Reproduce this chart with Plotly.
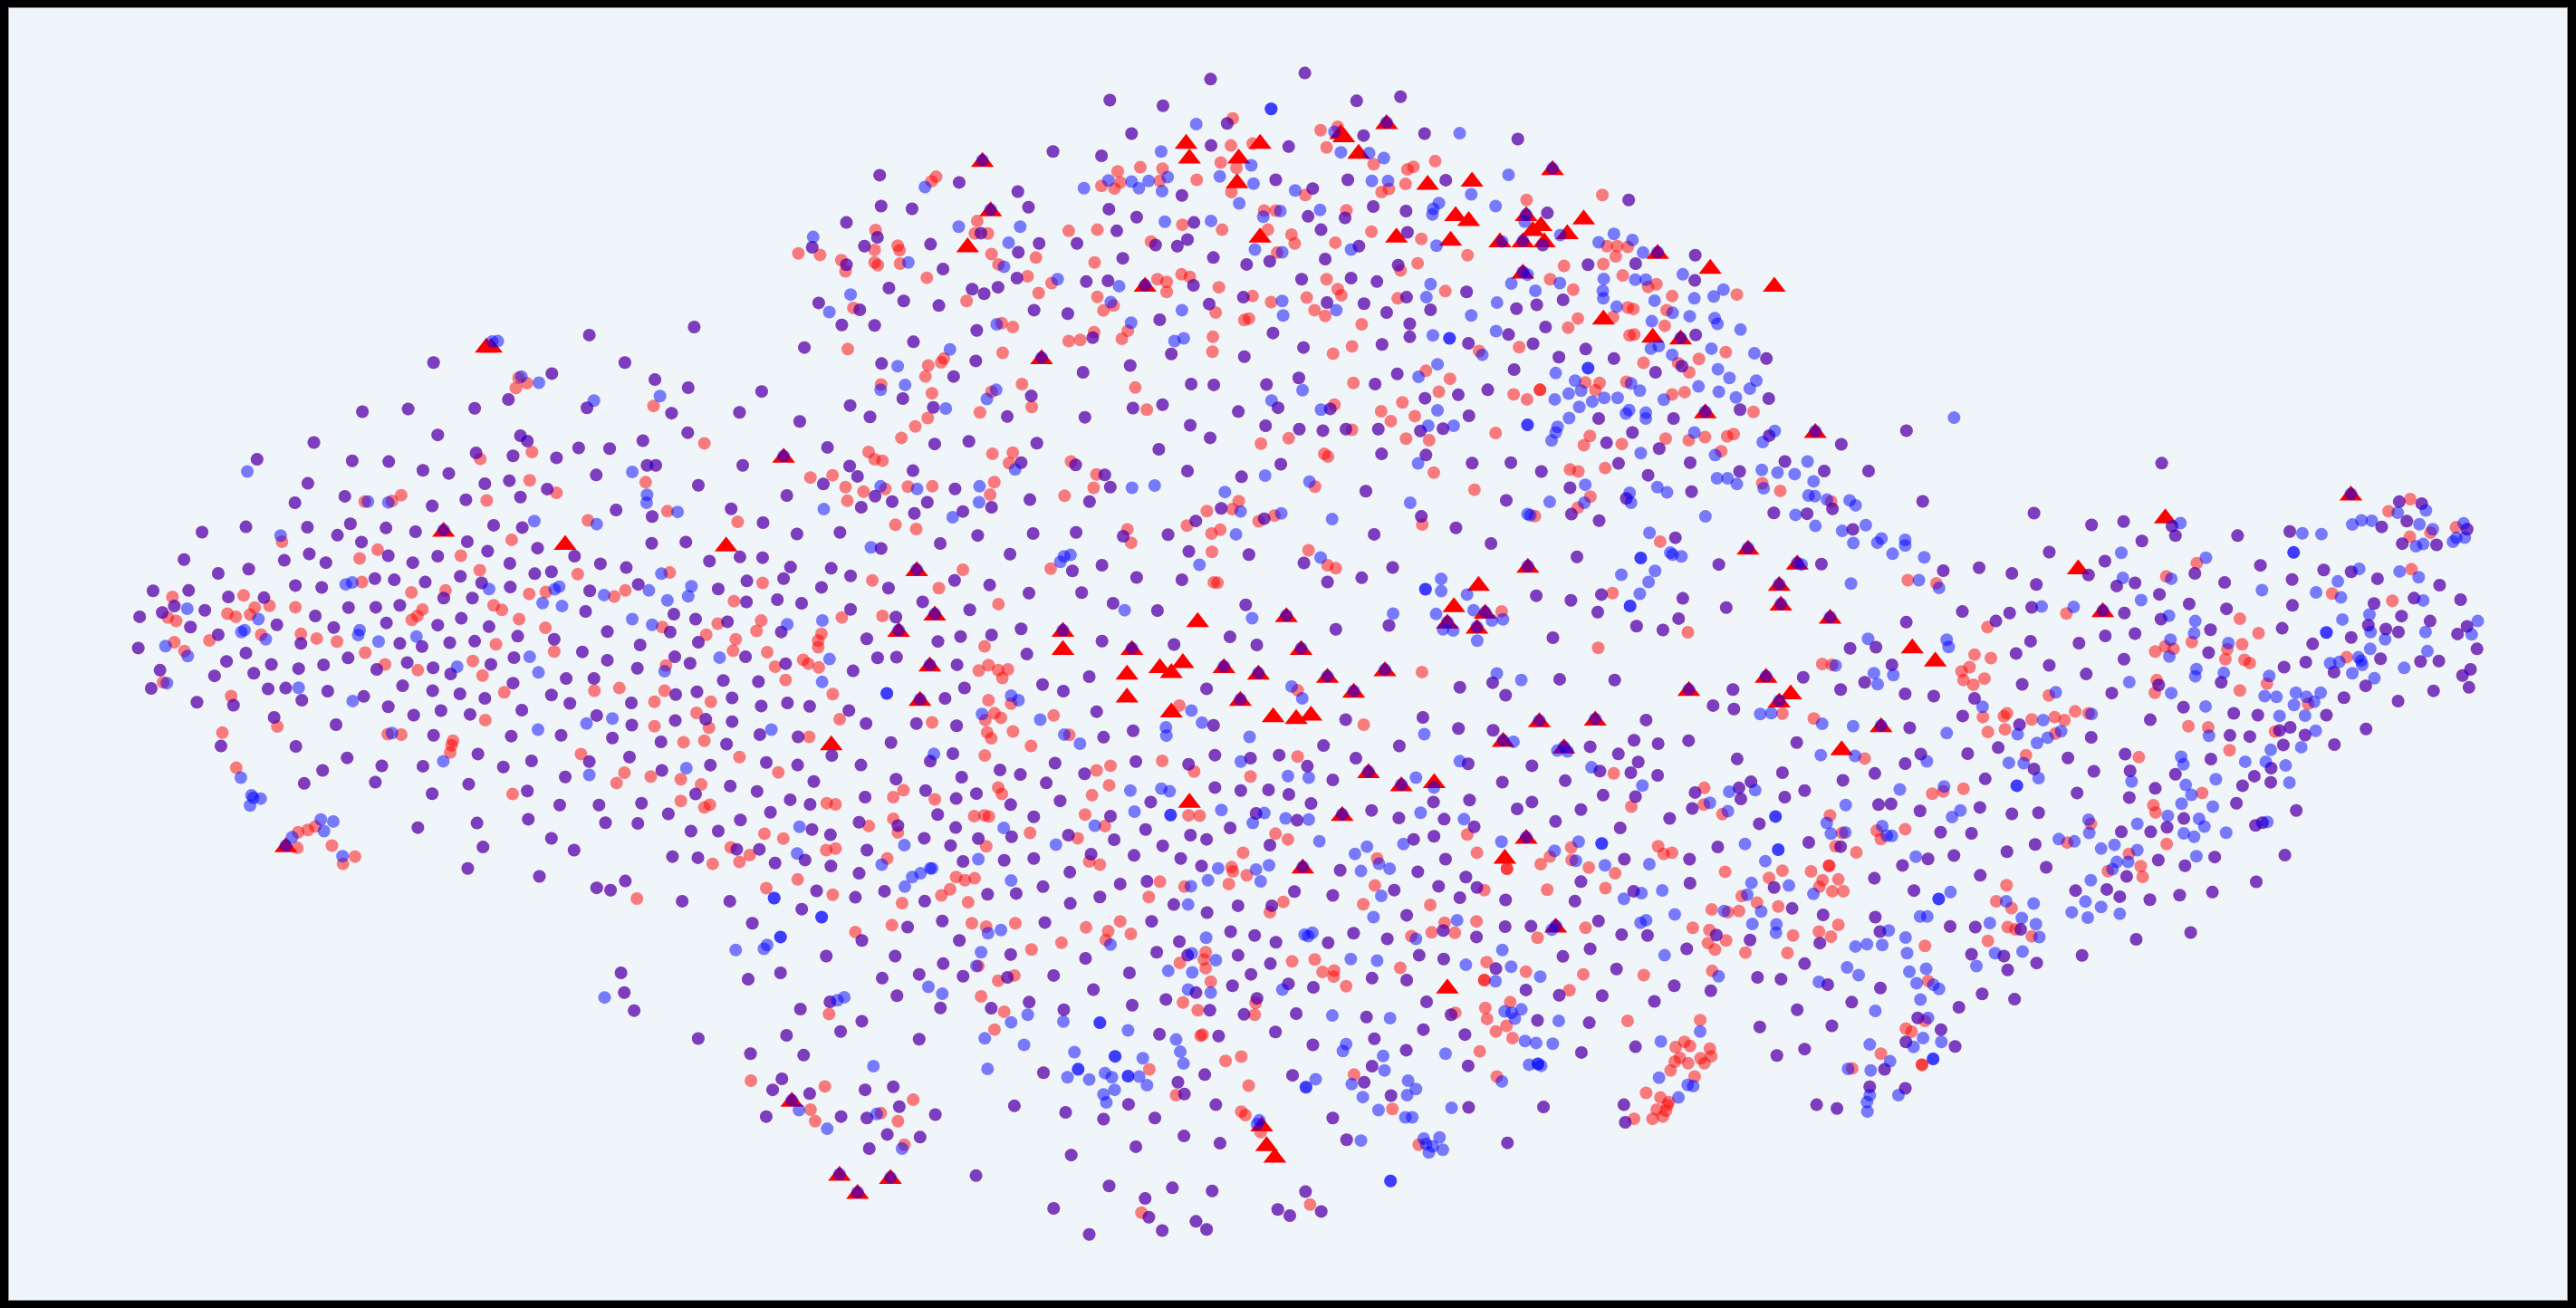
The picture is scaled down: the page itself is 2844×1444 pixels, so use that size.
"""t-SNE style scatter: red / blue point sets with overlapping members and marked triangles.

Readings are grouped by the part of the picture they were read from; each group
is in its own reading units and gets mapped to the shared axes further down.
"""

import plotly.graph_objects as go

PAPER = "#000000"
PLOT_BG = "#f0f5f9"

# --- west part ---
W_BOTH = [
(1040,71),(1267,50),(1117,143),(703,143),(959,172),(1182,188),(1254,209),(1413,219),(865,240),(1035,262),(1218,276),(1365,274),(549,272),(648,265),(792,263),(712,333),(444,353),(891,335),(906,349),(1253,327),(1156,348),(1017,367),(1084,369),(321,397),(527,401),(606,403),(795,380),(875,388),(969,393),(1372,413),(1165,413),(1184,413),(680,426),(736,434),(431,460),(814,461),(867,453),(949,475),(1055,438),(1276,465),(511,494),(403,511),(773,503),(891,496),(700,519),(1098,530),(1347,527),(1176,547),(1416,563),
(202,588),(297,574),(430,575),(523,566),(600,577),(664,587),(833,570),(895,576),(495,596),(547,614),(776,613),(928,630),(1175,617),(1249,614),(163,660),(434,645),(380,662),(470,668),(605,650),(658,668),(712,651),(820,638),(1008,651),(237,696),(303,685),(868,670),(922,697),(958,692),(1064,671),(1120,681),(1300,664),(1366,653),(1415,655),(404,728),(461,733),(576,710),(618,713),(685,719),(761,704),(807,721),(869,732),(96,742),(173,741),(259,758),(336,760),(725,761),(787,761),(1041,742),(1146,725),(1319,737),(1381,716),(519,786),(578,785),(630,780),(142,782),(208,793),(116,799),(67,810),(447,808),(1032,796),(1223,803),(1380,771),(1447,765),(763,814),(177,837),(364,831),(601,826),(712,832),(823,836),(1270,816),(1339,823),(487,838),(237,857),(885,861),(1079,849),(1215,850),(964,869),(792,874),(738,878),(678,888),(64,892),(416,880),(630,880),(1150,884),(1276,877),(297,905),(1025,902),(518,918),(877,917),(255,927),(352,935),(646,930),(827,935),(1079,924),(1225,915),(1378,915),(411,946),(465,936),(580,948),(111,950),(229,965),(314,958),(702,944),(740,960),(1144,945),(1258,932),(990,972),(1050,972),(636,991),(92,998),(345,999),(383,997),(474,1005),(701,1004),(760,1012),(875,984),(1330,977),(1406,980),(552,1019),(814,1024),(958,1015),(1227,1014),(1273,1007),(191,1034),(270,1042),(418,1029),(605,1046),(998,1037),(1131,1036),(1349,1023),(1412,1044),(719,1056),(660,1068),(782,1066),(894,1055),(358,1074),(1056,1069),(492,1093),(1132,1094),(1226,1082),(1292,1079),(1349,1085),(703,1121),(871,1123),(979,1121),(1090,1128),(1409,1119),(243,1149),(405,1150),(1195,1138),(1337,1144),(799,1170),(516,1180),(915,1188),(1127,1178),(1040,1190),(680,1202),(591,1201),(854,1204),(1302,1199),(1423,1192),(463,1213),(577,1244),(988,1230),(1197,1213),(423,1247),(779,1249),(700,1274),(906,1267),(1345,1254),(1270,1275),(1403,1268),(976,1304),(1061,1304),(1153,1299),(1211,1327),(1432,1323),(908,1341),(797,1351),(669,1363),(1075,1350),(1145,1352),(1367,1343),(1260,1372),(1319,1372),(958,1391),(810,1414),(1007,1422),(1408,1420),(1220,1439),(1275,1442),(1359,1420),(777,1470),(932,1491),(1056,1521),(1086,1527),(1118,1503),(1241,1556),(1344,1556),(1442,1456),
]
W_RED = [
(706,138),(881,210),(905,197),(887,183),(1179,257),(1289,355),(911,347),(916,378),(804,396),(1162,457),(911,452),(969,485),(818,505),(633,491),(554,508),(613,506),(401,518),(1037,557),(1209,533),(1361,561),(525,560),(872,608),(375,613),(582,634),(543,657),(762,650),(1015,698),(803,688),(918,692),(548,719),(1214,694),(655,746),(729,741),(946,745),(910,750),(1118,741),(1094,757),(292,754),(404,785),(348,781),(316,786),(257,802),(306,804),(275,810),(138,758),(128,812),(146,821),(679,791),(668,808),(656,818),(833,780),(851,792),(1353,769),(1415,721),(888,816),(945,839),(416,855),(330,857),(450,867),(494,875),(1198,837),(1293,857),(1318,828),(1402,847),(1412,820),(218,872),(142,877),(164,900),(555,904),(838,882),(1357,869),(1351,899),(1425,903),(964,901),(598,935),(788,926),(669,950),(1206,938),(1442,941),(809,964),(118,982),(1105,997),(1051,1004),(1203,1004),(856,1008),(265,1018),(1303,1033),(1181,1033),(1272,1062),(1299,1101),(815,1081),(365,1098),(246,1114),(1181,1097),(633,1119),(604,1118),(745,1135),(742,1147),(739,1166),(1244,1139),(1289,1135),(1365,1178),(1022,1170),(276,1206),(1116,1219),(1099,1246),(1173,1229),(1238,1236),(1449,1218),(874,1275),(1282,1250),(1238,1293),(1301,1303),(1289,1310),(1419,1379),(1346,1415),(1387,1435),(1365,1453),(1307,1458),(410,1375),(431,1369),(447,1360),(408,1416),(483,1410),(533,1439),(507,1458),(1143,1549),(1423,1522),
]
W_BLUE = [
(300,429),(830,88),(842,87),(893,180),(931,196),(1050,243),(1193,231),(1133,430),(1165,490),(1164,511),(1231,535),(1056,567),(921,559),(372,597),(561,508),(605,510),(1196,697),(513,725),(527,720),(823,737),(975,731),(965,738),(1169,741),(1072,753),(1209,767),(1261,730),(1254,756),(939,774),(981,782),(170,789),(324,816),(1133,816),(1176,831),(294,845),(287,850),(340,869),(543,845),(540,858),(666,862),(584,875),(123,887),(171,913),(873,917),(911,915),(1322,917),(754,941),(737,960),(930,956),(1203,953),(126,984),(411,996),(528,1031),(1090,1077),(1034,1090),(929,1106),(1434,1106),(613,1115),(724,1189),(1040,1225),(1250,1207),(286,1232),(309,1278),(329,1287),(313,1285),(306,1305),(459,1342),(486,1347),(466,1372),(397,1388),(506,1438),(1360,1420),(1440,1548),(1440,1548),
]

# --- north part ---
N_BOTH = [
(934,65),(1138,49),(716,120),(831,135),(1250,122),(1345,111),(970,181),(763,208),(1397,208),(1265,213),(935,239),(1103,242),(593,255),(698,266),(218,317),(390,336),(872,370),(1075,329),(1231,329),(1155,352),(517,360),(1443,330),(288,405),(540,401),(221,398),(714,406),(774,427),(1286,399),(1357,411),(146,441),(898,441),(1225,429),(1145,425),(213,480),(731,463),(437,469),(1173,460),(1360,467),(185,503),(328,498),(72,506),(563,496),(645,496),(862,503),(815,500),(884,486),(1255,503),(518,519),(744,535),(940,533),(1182,537),(1062,543),(1012,551),(146,552),(355,563),(1340,553),(238,613),(418,616),(474,611),(515,587),(665,596),(712,594),(897,606),(1131,590),(1238,587),(1294,596),(86,652),(270,647),(346,659),(444,628),(1005,637),(931,655),(1186,651),(1266,654),(1358,637),(1488,623),(175,670),(552,671),(625,680),(1315,677),(1410,670),(824,696),(136,710),(207,711),(428,724),(1365,707),(1069,731),(679,743),(55,769),(291,754),(1365,741),(1135,769),(1492,758),(1305,761),(849,786),(1007,793),(222,811),(426,804),(760,816),(378,845),(658,834),(1338,838),(1125,849),(1290,865),(892,865),(941,867),(1055,866),(1470,893),(546,896),(268,903),(1398,902),(154,921),(334,926),(766,928),(830,919),(1080,927),(994,937),(197,951),(494,950),(662,952),(45,963),(1193,930),(890,973),(1053,974),(1126,983),(1177,987),(1227,983),(1297,983),(1388,988),(1437,982),(1493,948),(933,1006),(105,1031),(337,1022),(411,1015),(558,1020),(822,1036),(1304,1048),(1400,1051),(524,1071),(642,1077),(1086,1075),(1500,1072),(153,1080),(170,1107),(290,1092),(884,1093),(705,1103),(1001,1108),(96,1127),(717,1135),(381,1140),(1270,1146),(17,1157),(208,1159),(245,1173),(321,1175),(543,1168),(672,1173),(178,1188),(398,1199),(460,1188),(293,1204),(957,1191),(1390,1212),(902,1224),(1050,1218),(132,1254),(39,1258),(221,1296),(349,1283),(430,1262),(550,1257),(643,1254),(745,1264),(842,1260),(1288,1259),(1465,1242),(887,1304),(500,1311),(1017,1312),(1136,1334),(113,1348),(25,1345),(155,1368),(635,1355),(699,1340),(1328,1346),(10,1375),(380,1380),(774,1372),(872,1378),(1261,1373),(456,1392),(92,1398),(237,1400),(1187,1384),(541,1413),(655,1412),(311,1436),(723,1440),(1010,1444),(49,1440),(155,1456),(413,1457),(819,1459),(253,1476),(524,1507),(1320,1498),(1205,1508),(190,1533),(344,1540),(393,1527),(699,1539),(460,1523),(976,1528),(1034,1549),(855,1548),(5,1515),
]
N_RED = [
(982,168),(1172,199),(1209,190),(1185,244),(978,239),(1025,234),(956,284),(990,298),(782,296),(733,307),(830,300),(1287,288),(1420,280),(1373,295),(1360,302),(340,321),(330,333),(739,336),(698,345),(726,352),(824,332),(904,329),(1356,340),(1320,353),(1304,361),(1139,369),(1436,323),(979,361),(429,437),(424,470),(452,470),(209,461),(627,463),(689,460),(725,463),(873,447),(959,460),(1058,460),(1050,410),(1075,410),(1228,409),(1282,465),(1390,484),(1109,473),(1116,496),(1204,494),(805,491),(42,522),(89,526),(135,540),(144,569),(207,513),(261,514),(257,502),(262,549),(207,546),(214,553),(460,524),(475,551),(556,533),(683,546),(1078,520),(1490,527),(1382,548),(1345,567),(320,586),(538,582),(590,600),(659,594),(562,626),(819,590),(839,597),(871,577),(889,584),(839,623),(952,611),(413,612),(406,647),(689,636),(724,659),(702,672),(161,665),(1025,634),(1065,650),(1142,638),(1185,590),(1209,616),(1217,632),(1442,621),(1159,671),(1182,686),(1339,640),(945,677),(1007,697),(1017,693),(482,705),(506,715),(1261,708),(682,729),(755,725),(742,746),(627,752),(652,749),(939,741),(1240,766),(938,780),(149,773),(1199,785),(484,783),(1515,778),(357,798),(351,808),(323,816),(317,845),(1400,830),(1452,851),(1243,862),(221,866),(526,865),(771,874),(331,889),(460,885),(1428,885),(1393,893),(547,925),(435,939),(796,932),(322,954),(1349,913),(1303,936),(1376,949),(1202,919),(295,976),(1324,962),(265,1006),(1240,985),(1043,1021),(1103,1007),(1357,1008),(1407,1012),(1382,980),(194,1043),(207,1062),(224,1066),(462,1048),(506,1045),(498,1072),(632,1068),(1180,1048),(1188,1055),(1417,1097),(68,1110),(116,1104),(687,1102),(144,1135),(183,1147),(230,1140),(279,1134),(332,1133),(466,1122),(457,1155),(681,1137),(1160,1134),(1505,1142),(148,1171),(618,1158),(995,1172),(998,1115),(926,1198),(981,1193),(897,1219),(883,1236),(252,1234),(297,1245),(297,1206),(936,1257),(955,1247),(1038,1225),(1072,1210),(754,1246),(762,1281),(1392,1233),(37,1266),(937,1305),(1146,1301),(1187,1340),(1205,1348),(588,1349),(398,1352),(202,1380),(346,1400),(941,1385),(949,1386),(475,1442),(224,1473),(136,1477),(92,1520),(85,1538),(85,1555),(445,1553),(875,1372),(1187,1375),
]
N_BLUE = [
(1065,143),(1065,143),(903,183),(1202,203),(1473,207),(1216,257),(1277,259),(1309,272),(827,255),(1022,291),(954,320),(841,322),(660,351),(713,331),(763,334),(800,332),(779,351),(829,359),(1027,339),(1117,357),(1283,332),(1318,332),(316,348),(1498,367),(1428,390),(1416,405),(1414,420),(996,391),(515,356),(835,439),(935,437),(1171,408),(1143,420),(1048,426),(1085,411),(389,452),(522,452),(74,479),(497,494),(1238,512),(1030,512),(1423,502),(818,502),(885,484),(1089,519),(280,546),(487,557),(1340,552),(603,590),(514,587),(736,608),(1410,603),(155,630),(420,618),(1401,637),(1360,637),(718,650),(1089,647),(109,676),(1206,671),(872,671),(1091,685),(1498,685),(471,708),(762,704),(856,752),(876,745),(1415,737),(1451,745),(1451,745),(1522,788),(680,740),(370,774),(1364,745),(1425,813),(257,818),(660,836),(1384,846),(273,867),(220,880),(470,880),(450,904),(546,895),(361,929),(1133,881),(1066,908),(1173,932),(1195,930),(1425,934),(1405,974),(1460,974),(150,1077),(511,1089),(1383,1073),(290,1092),(813,1131),(764,1137),(434,1133),(220,1133),(299,1140),(1148,1121),(1052,1105),(433,1175),(965,1148),(376,1214),(97,1193),(293,1202),(999,1199),(1087,1204),(1051,1218),(1366,1176),(1197,1219),(989,1259),(199,1293),(40,1258),(631,1313),(617,1317),(609,1331),(910,1339),(1172,1320),(26,1343),(1433,1376),(1433,1408),(1399,1403),(1399,1403),(1489,1417),(873,1380),(1187,1385),(238,1400),(748,1458),(94,1485),(1024,1479),(340,1475),(1422,1468),(1329,1467),(18,1495),(1503,1458),(1320,1497),(463,1522),(1437,1508),(1459,1511),(1511,1538),
]

# --- north-east part ---
NE_BOTH = [
(70,222),(134,416),(310,382),(454,527),(124,500),(222,552),(325,549),(453,593),(168,644),(111,657),(67,667),(130,715),(103,759),(50,735),(455,736),(159,794),(217,773),(278,798),(608,798),(62,827),(368,834),(425,818),(5,880),(613,903),(407,955),(245,955),(551,932),(911,987),(770,1023),(614,1000),(262,1019),(318,992),(376,1034),(55,1071),(121,1094),(288,1073),(443,1071),(550,1094),(352,1104),(733,1093),(829,1093),(648,1068),(183,1137),(446,1147),(45,1170),(305,1165),(186,1206),(624,1203),(696,1205),(751,1192),(246,1223),(795,1246),(411,1268),(12,1283),(198,1318),(505,1338),(727,1337),(110,1420),(185,1432),(251,1417),(427,1427),(243,1463),(521,1451),(418,1480),(327,1500),(384,1510),(146,1530),(789,1558),(845,1555),
]
NE_RED = [
(253,369),(89,382),(263,503),(285,503),(308,505),(282,530),(170,555),(255,550),(140,590),(297,580),(370,603),(352,610),(190,617),(404,634),(544,630),(308,664),(320,668),(392,671),(276,689),(200,693),(179,717),(388,712),(312,737),(322,735),(44,732),(73,768),(102,755),(215,770),(462,799),(520,781),(342,809),(417,810),(441,834),(216,861),(247,862),(238,881),(305,859),(90,905),(61,892),(118,880),(118,880),(404,892),(431,886),(580,938),(252,953),(22,993),(322,988),(226,1001),(213,1025),(295,1022),(390,1008),(440,1012),(475,1004),(523,1002),(537,996),(510,1041),(645,1067),(183,1089),(201,1094),(259,1085),(343,1100),(548,1092),(599,1125),(638,1145),(179,1134),(227,1160),(200,1189),(748,1173),(694,1198),(107,1211),(241,1226),(378,1278),(275,1413),(35,1461),(438,1516),(244,1557),
]
NE_BLUE = [
(50,316),(22,398),(85,439),(162,474),(278,471),(318,487),(245,493),(341,520),(36,491),(86,495),(427,577),(91,578),(56,601),(161,600),(256,589),(324,591),(347,591),(515,617),(108,620),(254,620),(255,640),(25,651),(452,640),(494,635),(366,646),(284,662),(405,678),(442,687),(496,692),(502,707),(360,700),(552,722),(23,726),(54,736),(375,765),(358,772),(489,772),(582,784),(404,788),(427,820),(222,823),(222,823),(152,836),(503,826),(528,849),(194,856),(315,863),(334,882),(461,871),(586,856),(572,877),(505,885),(180,890),(207,882),(150,905),(257,901),(286,901),(231,911),(386,906),(542,900),(203,925),(311,933),(304,942),(347,940),(347,955),(181,954),(91,972),(91,972),(240,956),(550,930),(156,977),(152,992),(143,1013),(452,992),(316,995),(626,988),(600,1017),(336,1046),(497,1051),(598,1090),(632,1097),(669,1101),(697,1068),(710,1120),(501,1112),(524,1112),(544,1127),(372,1135),(393,1149),(602,1138),(139,1174),(216,1129),(214,1176),(312,1150),(315,1176),(699,1157),(713,1159),(739,1168),(788,1170),(801,1183),(91,1206),(97,1209),(476,1212),(671,1208),(700,1208),(714,1237),(250,1223),(355,1255),(772,1250),(823,1235),(857,1270),(848,1281),(796,1282),(400,1307),(424,1317),(405,1312),(336,1321),(336,1321),(881,1310),(294,1365),(367,1355),(353,1384),(684,1338),(791,1388),(334,1415),(313,1447),(313,1447),(14,1485),(38,1482),(828,1533),(1014,953),
]

# --- east part ---
E_BOTH = [
(681,27),(54,127),(346,158),(497,189),(581,180),(708,192),(717,217),(629,231),(880,217),(1017,206),(386,260),(532,284),(202,301),(288,316),(108,309),(489,320),(352,345),(563,349),(611,341),(940,295),(1106,307),(1178,312),(1023,332),(846,340),(1247,330),(1304,128),(1363,133),(1324,179),(1258,194),(1402,241),(1312,238),(1482,200),(768,316),(675,371),(1410,347),(158,416),(282,420),(340,405),(583,420),(753,396),(851,409),(1024,400),(1238,395),(1343,381),(1465,385),(11,444),(246,441),(679,436),(1310,428),(1385,441),(809,464),(997,460),(1223,452),(1269,462),(1302,470),(1482,455),(611,474),(533,480),(337,494),(464,499),(1178,484),(1077,501),(1457,475),(1508,514),(299,526),(804,524),(582,541),(386,557),(1002,562),(1059,549),(1255,540),(1360,547),(1408,546),(483,580),(1491,568),(1133,575),(1470,584),(315,607),(837,602),(673,609),(1216,611),(1487,615),(83,638),(550,630),(1394,624),(8,632),(190,644),(1159,642),(1301,651),(738,667),(159,690),(870,683),(933,688),(1113,688),(651,700),(308,713),(20,721),(1018,720),(1217,724),(496,746),(860,741),(912,744),(990,728),(1057,740),(252,773),(172,789),(49,790),(585,790),(810,803),(1134,765),(1000,766),(435,800),(8,815),(598,834),(346,829),(503,835),(968,827),(717,843),(967,864),(924,848),(218,855),(893,873),(664,880),(459,892),(596,904),(877,919),(204,930),(47,939),(288,947),(358,944),(1034,938),(927,977),(945,970),(739,959),(101,995),(182,998),(575,994),(652,994),(695,982),(349,1027),(275,1046),(136,1056),(68,1065),(672,1068),(820,1060),(1004,1055),(378,1087),(742,1083),(1,1082),(205,1108),(589,1111),(31,1148),(455,1148),(537,1145),(571,1164),(650,1172),(728,1160),(814,1152),(929,1125),(192,1244),(126,1242),(614,1276),(757,1258),(472,1318),(182,1315),(267,1320),(353,1338),(277,1356),(210,1419),(295,1433),(149,1454),(41,1482),(102,1513),(139,1557),(10,1545),(311,1250),
]
E_RED = [
(1333,121),(1276,153),(1332,220),(1386,209),(1302,244),(1453,195),(1492,200),(1336,305),(1128,369),(1286,388),(1308,425),(693,324),(773,289),(15,334),(90,342),(224,457),(238,447),(290,415),(330,409),(431,421),(886,435),(935,473),(760,496),(664,521),(690,508),(712,514),(799,520),(853,515),(848,541),(892,502),(898,543),(912,551),(1166,536),(190,529),(233,538),(177,562),(156,573),(161,596),(216,592),(187,608),(668,596),(663,629),(957,605),(886,623),(1138,574),(385,636),(191,640),(731,664),(275,683),(267,691),(212,693),(340,699),(400,693),(426,701),(454,678),(489,683),(225,732),(270,725),(402,736),(751,717),(803,720),(863,738),(978,731),(1052,743),(859,780),(325,793),(621,798),(79,894),(108,888),(161,881),(713,838),(787,892),(659,924),(665,943),(495,973),(745,953),(8,987),(178,1003),(645,994),(705,982),(433,1022),(694,1026),(595,1052),(626,1084),(631,1112),(540,1097),(537,1135),(274,1134),(247,1176),(287,1194),(118,1245),(277,1244),(297,1250),(340,1268),(225,1280),(60,1293),(68,1385),(10,1510),(25,1518),(60,1490),(50,1485),(940,960),(1065,658),
]
E_BLUE = [
(1181,115),(1300,157),(1374,151),(1205,177),(1232,178),(1181,188),(1050,211),(1100,213),(730,184),(1027,261),(1027,261),(1357,187),(1392,200),(1473,185),(1476,222),(1454,223),(1445,233),(1367,239),(1348,245),(1315,237),(797,275),(575,262),(58,274),(8,228),(8,243),(706,330),(579,328),(44,334),(97,354),(944,360),(1199,304),(1143,337),(1305,311),(1355,326),(1086,366),(1151,379),(627,386),(1367,387),(366,403),(339,406),(450,404),(281,420),(1226,424),(248,442),(700,427),(769,441),(1155,437),(1510,441),(1113,471),(1113,471),(766,473),(1229,470),(1373,470),(1494,476),(1267,489),(117,490),(122,509),(704,490),(856,499),(1228,514),(701,534),(1378,520),(1123,552),(1147,548),(1197,536),(1204,545),(1207,556),(772,567),(1317,564),(963,585),(769,586),(844,577),(1181,578),(1129,584),(1239,591),(596,601),(838,599),(403,628),(706,630),(1033,629),(1098,629),(951,638),(982,640),(1061,640),(188,644),(211,666),(796,665),(740,668),(1028,661),(1081,653),(990,690),(1057,689),(497,685),(370,701),(117,735),(303,738),(417,730),(382,747),(354,761),(805,742),(991,725),(1085,729),(857,741),(967,779),(1047,772),(1000,766),(954,810),(732,797),(738,817),(65,809),(280,813),(319,814),(900,810),(1006,820),(358,853),(602,862),(823,856),(1016,865),(301,873),(301,873),(744,871),(110,875),(759,897),(923,849),(733,920),(815,928),(153,938),(131,955),(489,962),(697,952),(779,960),(737,962),(793,980),(958,968),(617,973),(739,998),(766,1007),(850,996),(491,997),(184,996),(411,1013),(452,1019),(557,1028),(522,1038),(617,1042),(36,1059),(772,1058),(563,1073),(593,1073),(552,1092),(495,1121),(127,1152),(96,1170),(96,1170),(481,1177),(273,1176),(345,1182),(445,1205),(522,1191),(487,1219),(571,1209),(47,1216),(66,1216),(132,1242),(314,1220),(230,1233),(351,1236),(306,1260),(360,1270),(9,1271),(13,1312),(244,1312),(263,1318),(278,1323),(316,1308),(195,1346),(63,1353),(19,1361),(38,1391),(82,1395),(97,1406),(48,1434),(68,1482),(55,1535),(103,1545),(30,1558),
]

# --- south part ---
S_BOTH = [
(278,49),(331,15),(372,13),(503,33),(654,5),(132,30),(789,64),(688,85),(733,102),(519,94),(1043,96),(477,121),(269,153),(136,133),(184,142),(805,156),(306,187),(415,187),(502,193),(884,206),(1344,177),(1058,192),(159,222),(820,223),(360,237),(232,271),(494,266),(445,286),(1061,270),(1138,278),(1200,270),(1296,245),(1366,278),(295,296),(715,291),(890,287),(158,296),(1004,294),(1261,299),(596,309),(640,321),(779,319),(371,333),(513,328),(1316,335),(193,339),(696,343),(1061,355),(1117,363),(1177,361),(1221,373),(304,380),(435,363),(545,371),(142,387),(185,399),(501,384),(726,390),(619,400),(922,393),(1269,397),(461,426),(669,432),(835,430),(291,446),(375,455),(500,460),(1150,423),(1239,441),(1094,461),(189,465),(229,479),(432,488),(549,489),(621,484),(744,480),(911,465),(1008,480),(1043,491),(489,507),(843,492),(948,508),(1180,506),(174,545),(308,519),(605,546),(669,541),(793,530),(886,533),(987,541),(230,561),(516,549),(1032,561),(291,580),(747,577),(1332,572),(199,626),(856,608),(914,601),(689,615),(346,627),(631,633),(569,635),(283,643),(433,653),(812,642),(1233,628),(1316,638),(167,674),(748,659),(972,662),(1111,665),(1184,665),(1044,683),(471,705),(693,709),(924,706),(396,721),(60,711),(1095,733),(1147,743),(1361,737),(297,756),(508,756),(984,759),(1193,761),(1306,762),(220,797),(369,797),(619,793),(781,803),(935,787),(1111,795),(473,817),(1181,817),(1002,795),(121,841),(51,858),(341,855),(421,845),(516,850),(612,853),(712,848),(876,841),(1139,845),(798,885),(1099,875),(1220,870),(1274,879),(373,901),(659,918),(228,917),(1020,893),(164,936),(467,933),(577,934),(734,938),(882,926),(955,911),(1050,939),(1124,950),(1237,948),(1152,908),(297,968),(251,995),(134,1005),(421,1015),(941,1002),(1069,1007),(1192,996),(1273,1030),(56,1053),(171,1057),(124,1119),(690,1103),(1039,1108),(981,1128),(1229,1110),(104,1148),(365,1140),(304,1148),(184,1158),(378,1192),(627,1190),(1063,1187),(874,1186),(995,1159),(90,1218),(252,1218),(308,1222),(456,1213),(738,1207),(820,1225),(931,1222),(1316,1222),(352,1265),(423,1272),(994,1269),(1072,1288),(1346,1279),(313,1302),(890,1297),(750,1319),(544,1373),(832,1400),(969,1405),(1055,1413),(910,1433),(712,1459),(1257,1415),(1197,1462),(1291,1467),(918,1482),(1223,1478),(947,1517),(1020,1493),(1043,1514),(789,1527),
]
S_RED = [
(170,20),(181,30),(204,40),(132,73),(234,110),(550,48),(571,34),(592,47),(613,45),(601,68),(571,126),(620,135),(584,160),(598,172),(564,178),(712,166),(568,210),(577,226),(624,208),(249,176),(301,183),(449,184),(183,222),(663,246),(563,271),(746,217),(835,298),(805,310),(947,285),(1016,313),(1138,326),(1240,274),(387,362),(365,380),(592,355),(600,372),(455,386),(832,349),(795,375),(221,396),(240,399),(1055,350),(918,392),(780,426),(540,430),(562,428),(572,431),(365,437),(312,456),(375,473),(834,437),(823,456),(1004,428),(1028,429),(984,140),(1240,100),(127,489),(87,476),(661,474),(742,480),(764,488),(837,489),(1192,476),(1219,491),(1122,526),(566,509),(240,515),(220,519),(352,541),(789,549),(812,557),(1097,564),(1100,575),(1130,585),(1091,608),(501,590),(520,598),(541,593),(158,596),(89,618),(942,602),(995,615),(1209,655),(234,636),(488,622),(469,638),(384,658),(527,656),(918,642),(1180,682),(362,716),(535,711),(629,711),(390,715),(566,720),(283,734),(856,706),(782,722),(830,732),(879,739),(729,762),(664,780),(825,755),(1041,787),(1037,806),(1041,829),(985,815),(1228,811),(1277,806),(1294,839),(1319,835),(1318,851),(1345,876),(549,823),(513,846),(627,848),(592,862),(618,860),(715,850),(1052,864),(555,903),(992,919),(1024,939),(946,911),(605,943),(226,949),(1147,951),(1149,920),(584,990),(1030,1006),(1034,1003),(1084,1072),(1118,1061),(919,1094),(57,1124),(217,1139),(1134,1137),(408,1174),(186,1200),(196,1230),(338,1209),(375,1230),(977,1162),(1118,1205),(1127,1214),(1160,1259),(389,1292),(902,1470),(1267,1449),(1214,1481),(1292,1471),(1362,1108),
]
S_BLUE = [
(227,18),(211,78),(351,108),(351,108),(620,114),(636,126),(1227,90),(1250,121),(1010,153),(557,162),(683,177),(1033,185),(1066,194),(955,197),(956,219),(735,216),(769,240),(101,203),(1136,222),(1117,287),(453,267),(1219,325),(1264,329),(878,363),(945,358),(963,365),(835,420),(887,418),(1075,414),(1168,422),(1143,448),(1214,436),(1264,439),(965,427),(965,427),(162,458),(801,455),(604,461),(290,448),(157,528),(389,506),(717,505),(1287,496),(178,549),(340,557),(549,543),(449,567),(445,567),(424,580),(406,590),(390,615),(620,599),(1068,567),(1150,570),(1178,559),(1046,598),(1160,601),(1364,529),(1009,614),(565,632),(1003,662),(971,662),(107,645),(210,695),(210,695),(598,729),(570,737),(396,722),(1042,749),(1255,741),(1272,736),(1263,745),(835,767),(121,747),(121,747),(92,768),(85,778),(24,781),(555,787),(1011,790),(1355,805),(1063,808),(545,823),(960,836),(1012,840),(709,844),(441,878),(471,896),(1003,885),(1021,894),(1052,893),(1207,885),(259,905),(244,913),(227,917),(656,951),(620,971),(733,969),(812,972),(812,972),(1315,953),(873,992),(977,1016),(563,1013),(648,1030),(986,1048),(993,1079),(757,1049),(845,1060),(845,1060),(905,1065),(1345,1028),(1338,1046),(322,1086),(569,1093),(765,1093),(765,1095),(742,1115),(789,1121),(823,1104),(838,1115),(873,1112),(873,1112),(897,1113),(914,1136),(1279,1120),(1258,1141),(1258,1141),(1357,1133),(844,1148),(820,1160),(826,1181),(996,1159),(161,1201),(329,1211),(222,1250),(1157,1228),(1152,1238),(384,1302),
]

# --- south-east part ---
SE_BOTH = [
(435,71),(554,73),(219,92),(290,80),(318,113),(810,98),(962,66),(1043,98),(1095,79),(1154,33),(767,140),(812,149),(139,171),(216,200),(622,178),(291,205),(596,231),(648,240),(714,232),(948,237),(88,246),(501,248),(562,267),(819,280),(605,288),(237,293),(375,298),(522,312),(589,316),(647,323),(917,316),(1117,318),(311,341),(447,337),(1048,336),(965,363),(922,380),(728,368),(823,356),(849,340),(599,379),(529,375),(240,388),(162,393),(375,393),(343,411),(481,413),(722,410),(28,415),(827,385),(1125,400),(1152,398),(87,435),(185,438),(426,444),(673,436),(250,458),(566,461),(867,450),(119,491),(163,483),(777,511),(974,499),(1043,510),(188,543),(575,543),(716,543),(128,576),(232,590),(481,602),(173,614),(256,617),(1116,593),(1173,560),(77,624),(595,627),(717,606),(899,617),(318,650),(219,644),(468,653),(938,672),(104,690),(1005,689),(1118,695),(519,705),(317,720),(373,719),(183,730),(569,741),(62,752),(255,747),(625,743),(1128,733),(774,742),(847,755),(998,763),(501,778),(710,778),(131,795),(184,805),(442,798),(965,817),(558,831),(297,830),(29,855),(104,860),(863,853),(914,858),(1015,872),(683,875),(762,888),(362,886),(527,901),(1129,881),(147,917),(640,916),(434,900),(1067,918),(949,938),(17,957),(387,966),(499,972),(200,951),(140,990),(868,983),(1024,980),(34,1014),(230,1003),(103,1044),(599,1035),(482,1050),(965,1041),(905,1058),(237,1085),(29,1086),(1138,1094),(12,1128),(1106,1140),(1183,1144),(574,1187),(238,1194),(400,1193),(991,1187),(1035,1197),(322,1287),(577,1233),(70,1163),
]
SE_RED = [
(137,52),(11,190),(1003,31),(1024,33),(917,161),(985,174),(1095,279),(552,318),(748,356),(747,400),(787,425),(1020,428),(590,405),(1120,404),(1121,468),(1130,490),(1046,474),(1032,509),(1077,525),(648,509),(660,529),(678,526),(460,512),(414,536),(394,556),(461,545),(498,565),(555,580),(534,619),(256,526),(235,478),(321,568),(321,568),(40,541),(35,612),(793,576),(917,573),(979,575),(1018,560),(1018,560),(888,592),(1004,598),(1038,596),(997,615),(1025,627),(1049,627),(272,624),(408,623),(10,661),(155,663),(829,640),(862,657),(908,667),(764,675),(799,682),(823,679),(255,706),(186,710),(208,736),(158,735),(114,745),(387,749),(491,723),(723,723),(759,729),(1038,715),(996,733),(1022,746),(940,743),(795,756),(756,763),(771,780),(837,788),(928,789),(631,743),(90,828),(100,857),(277,813),(299,838),(272,860),(272,860),(362,838),(486,845),(617,847),(765,836),(910,856),(359,883),(456,887),(442,897),(328,918),(274,933),(278,962),(320,980),(297,995),(333,1012),(209,946),(582,967),(739,965),(28,1010),(262,1047),(705,1022),(717,1033),(686,1036),(760,1040),(695,1064),(684,1074),(763,1060),(740,1065),(713,1078),(748,1078),(675,1097),(727,1113),(299,1113),(622,1156),(653,1168),(671,1180),(668,1188),(645,1200),(665,1203),(658,1218),(636,1224),(596,1224),(73,1198),(30,1085),(130,1292),(1130,1053),(1135,1090),(1219,1082),(1219,1082),(1068,1092),(1100,1145),
]
SE_BLUE = [
(299,56),(352,73),(1032,35),(1115,55),(1123,84),(1157,60),(869,162),(893,160),(1003,188),(1070,194),(1000,270),(1074,272),(142,215),(335,235),(430,258),(452,260),(219,286),(504,302),(124,329),(614,350),(163,355),(858,362),(802,366),(832,388),(760,395),(799,417),(1171,360),(1054,401),(134,421),(228,438),(902,431),(902,431),(864,452),(1013,448),(1022,476),(1053,473),(1133,456),(1143,481),(1154,482),(309,497),(476,497),(526,502),(526,502),(97,503),(18,510),(836,503),(908,518),(908,518),(424,521),(470,547),(44,555),(67,568),(533,559),(629,556),(880,548),(5,574),(850,605),(931,612),(612,632),(657,625),(984,634),(574,647),(49,639),(841,636),(32,695),(871,680),(791,679),(684,688),(213,703),(852,713),(904,714),(903,736),(622,703),(610,710),(620,743),(851,750),(418,728),(124,752),(1147,730),(1100,766),(1075,772),(1133,768),(775,743),(311,781),(40,809),(662,795),(232,820),(330,825),(296,863),(393,851),(1057,827),(1082,847),(779,850),(916,858),(996,865),(432,902),(316,942),(352,937),(338,961),(331,946),(68,960),(198,952),(433,967),(1118,941),(360,1020),(384,1025),(420,1027),(739,995),(654,1021),(36,1016),(53,1059),(188,1053),(1106,1029),(369,1082),(395,1085),(388,1080),(388,1080),(56,1097),(1108,1097),(650,1116),(1059,1093),(107,1124),(124,1146),(310,1126),(712,1135),(724,1138),(692,1168),(65,1155),(105,1162),(75,1163),(9,1167),(43,1201),(101,1220),(116,1220),(201,1195),(1106,1162),(1100,1180),(1101,1205),(1168,1162),(141,1276),(175,1273),(146,1290),(160,1296),(152,1312),(182,1305),(5,1281),(69,1387),(69,1387),(1150,1073),(1243,1067),(1243,1067),
]

# --- small south-west cluster, overview units ---
SW_BOTH = [(378,592),(380,604),(386,615),(425,632)]
SW_BLUE = [(368,607),(381,606)]

# marked points drawn as triangles, overview units; the first list has a blue circle on top
MARKED_BLUE = [
    (598,97),(844,74),(945,102),(603,127),(929,130),(927,146),(1009,153),(927,165),(697,173),(1023,205),(634,217),(1038,250),(1105,262),(477,277),
    (270,322),(1064,333),(1431,300),(558,346),(930,344),(1094,342),(1083,355),(1084,367),(569,373),(783,374),(1114,375),(1280,371),(904,372),(881,378),
    (647,383),(899,381),(547,383),(689,394),(792,394),(566,404),(745,405),(766,409),(808,411),(843,407),(1075,411),(1028,419),(1083,426),(824,420),
    (560,425),(755,425),(937,438),(971,437),(1145,441),(915,450),(952,454),(833,469),(853,477),(817,495),(929,509),(793,527),(947,563),(482,669),
    (511,714),(542,716),(522,725),(174,514),
]
MARKED_PLAIN = [
    (296,210),(299,210),(722,86),(724,95),(767,86),(754,95),(816,80),(818,82),(827,92),(753,110),(869,111),(896,109),(886,130),(894,133),
    (938,136),(964,132),(933,139),(954,141),(913,146),(940,146),(883,145),(850,143),(767,143),(589,149),(1041,162),(1080,173),(976,193),(1006,204),
    (344,330),(442,331),(1318,314),(1265,345),(900,355),(885,368),(729,377),(647,394),(1164,393),(1178,401),(720,402),(706,405),(686,409),(713,408),
    (1090,421),(686,423),(775,435),(789,436),(798,434),(713,432),(506,452),(1121,455),(873,475),(724,487),(916,521),(881,600),(768,684),(771,696),
    (776,703),
]


def mapped(points, x0, y0, sx, sy):
    return [(x0 + x / sx, y0 + y / sy) for x, y in points]


# (origin x, origin y, units per axis unit x, units per axis unit y)
WEST = (120, 340, 1.96, 2.376)
NORTH = (860, 60, 1.96, 2.376)
NORTH_EAST = (1640, 60, 1.96, 2.376)
EAST = (2100, 500, 2.376, 2.376)
SOUTH = (800, 720, 1.96, 2.376)
SOUTH_EAST = (1500, 720, 1.96, 2.376)
OVERVIEW = (0, 0, 1568 / 2844, 796 / 1444)


def near(p, others, r):
    return any((p[0] - q[0]) ** 2 + (p[1] - q[1]) ** 2 < r * r for q in others)


def merge(groups, already=(), r=5):
    # the same mark read twice (two parts of the picture, or as two sets) counts once;
    # repeats inside one group are real stacked marks and stay
    kept = list(already)
    out = []
    for group in groups:
        new = [p for p in group if not near(p, kept, r)]
        kept += new
        out += new
    return out


# triangle apex-heavy markers sit above their data point, and circles sit just below the middle
TRI_DY = 2.75
CIRCLE_DY = 1.0

tri_read = mapped(MARKED_BLUE, *OVERVIEW)
tri_circles = [(x, y + CIRCLE_DY) for x, y in tri_read]
both = merge([mapped(W_BOTH, *WEST), mapped(N_BOTH, *NORTH), mapped(NE_BOTH, *NORTH_EAST),
              mapped(E_BOTH, *EAST), mapped(S_BOTH, *SOUTH), mapped(SE_BOTH, *SOUTH_EAST),
              mapped(SW_BOTH, *OVERVIEW)], already=tri_circles, r=7)
red = both + merge([mapped(W_RED, *WEST), mapped(N_RED, *NORTH), mapped(NE_RED, *NORTH_EAST),
                    mapped(E_RED, *EAST), mapped(S_RED, *SOUTH), mapped(SE_RED, *SOUTH_EAST)],
                   already=both)
blue = both + tri_circles + merge([mapped(W_BLUE, *WEST), mapped(N_BLUE, *NORTH), mapped(NE_BLUE, *NORTH_EAST),
                                   mapped(E_BLUE, *EAST), mapped(S_BLUE, *SOUTH), mapped(SE_BLUE, *SOUTH_EAST),
                                   mapped(SW_BLUE, *OVERVIEW)], already=both + tri_circles)
tri = [(x, y + TRI_DY) for x, y in tri_read + mapped(MARKED_PLAIN, *OVERVIEW)]

fig = go.Figure()
fig.add_trace(go.Scatter(
    x=[p[0] for p in tri], y=[p[1] for p in tri], mode="markers",
    marker=dict(symbol="triangle-up", size=22, color="#ff0000", line=dict(width=0)),
))
fig.add_trace(go.Scatter(
    x=[p[0] for p in red], y=[p[1] for p in red], mode="markers",
    marker=dict(size=14, color="rgba(255,0,0,0.5)", line=dict(width=0)),
))
fig.add_trace(go.Scatter(
    x=[p[0] for p in blue], y=[p[1] for p in blue], mode="markers",
    marker=dict(size=14, color="rgba(0,0,255,0.5)", line=dict(width=0)),
))

axis = dict(showgrid=False, zeroline=False, showticklabels=False, ticks="",
            showline=True, mirror=True, linecolor="#8a8a9a", linewidth=1)
fig.update_layout(
    width=2844, height=1444, autosize=False,
    paper_bgcolor=PAPER, plot_bgcolor=PLOT_BG,
    margin=dict(l=10, r=10, t=9, b=9),
    showlegend=False,
    xaxis=dict(range=[10, 2834], **axis),
    yaxis=dict(range=[1435, 9], **axis),
)
fig.write_html("out.html", config={"displayModeBar": False},
               post_script="document.body.style.margin='0';document.body.style.background='#000';")
